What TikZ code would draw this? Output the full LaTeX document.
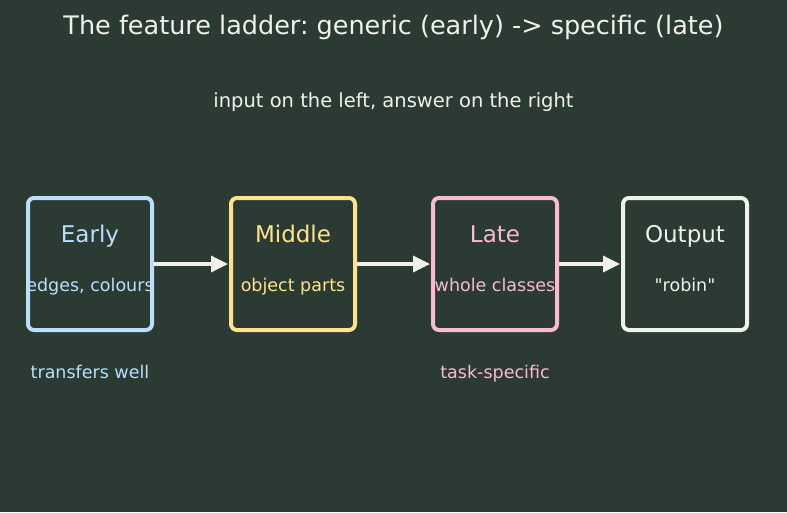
\documentclass[tikz,border=0pt]{standalone}
\usepackage{fontspec}
\setmainfont{DejaVu Sans}
\newfontfamily\plainsans{DejaVu Sans}
\usetikzlibrary{arrows.meta}
\definecolor{fondo}{HTML}{2B3B34}
\definecolor{azul}{HTML}{BBDEFB}
\definecolor{amarillo}{HTML}{FFE28C}
\definecolor{rosa}{HTML}{F8BBD0}
\definecolor{blanco}{HTML}{F0F2EA}
\frenchspacing
\begin{document}
\begin{tikzpicture}[
      x=1pt, y=-1pt,
      every node/.style={align=center, inner sep=0pt, anchor=base},
      stage/.style={draw, line width=4pt, rounded corners=6pt, minimum width=124pt, minimum height=132pt, anchor=center},
      head/.style={font=\fontsize{23}{26}\selectfont},
      sub/.style={font=\fontsize{17.5}{20}\selectfont},
      flow/.style={draw=blanco, line width=3.5pt, -{Triangle[length=17pt, width=16pt]}, shorten >=1pt}
    ]
    \fill[fondo] (0,0) rectangle (787,512);
    \node[text=blanco, font=\fontsize{25.5}{29}\selectfont] (title) at (393.5,34) {The feature ladder: generic (early) -> specific (late)};
    \node[text=blanco, font=\fontsize{19.5}{22}\selectfont] (subtitle) at (393.5,107) {input on the left, answer on the right};

    \node[stage, draw=azul] (early) at (90,264) {};
    \node[stage, draw=amarillo] (middle) at (293,264) {};
    \node[stage, draw=rosa] (late) at (495,264) {};
    \node[stage, draw=blanco] (output) at (685,264) {};

    \node[head, text=azul] (earlyT) at (90,242) {Early};
    \node[sub, text=azul] (earlyS) at (90,291) {edges, colours};
    \node[head, text=amarillo] (middleT) at (293,242) {Middle};
    \node[sub, text=amarillo] (middleS) at (293,291) {object parts};
    \node[head, text=rosa] (lateT) at (495,242) {Late};
    \node[sub, text=rosa] (lateS) at (495,291) {whole classes};
    \node[head, text=blanco] (outputT) at (685,242) {Output};
    \node[sub, text=blanco] (outputS) at (685,291) {\plainsans "robin"};

    \draw[flow] (early.east) -- (middle.west);
    \draw[flow] (middle.east) -- (late.west);
    \draw[flow] (late.east) -- (output.west);

    \node[sub, text=azul] (early-note) at (90,378) {transfers well};
    \node[sub, text=rosa] (late-note) at (495,378) {task-specific};
  \end{tikzpicture}
\end{document}
